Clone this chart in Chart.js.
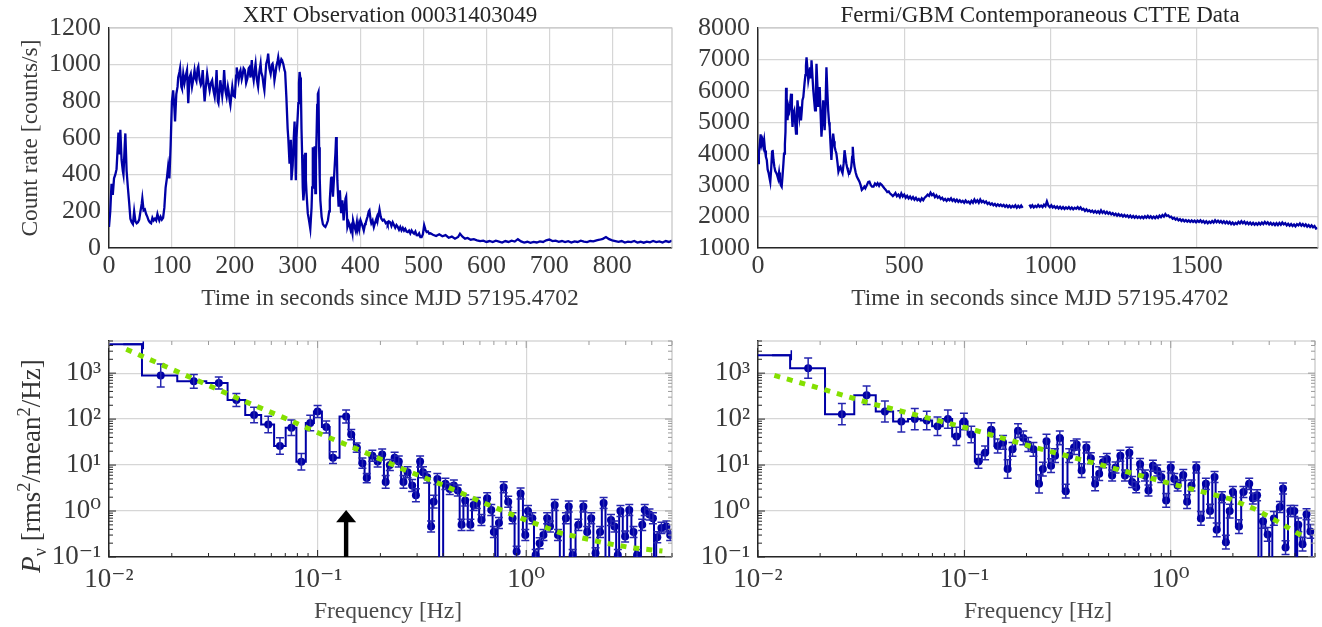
<!DOCTYPE html>
<html><head><meta charset="utf-8">
<script src="https://cdn.jsdelivr.net/npm/chart.js@4.4.1/dist/chart.umd.min.js"></script>
<style>
html,body{margin:0;padding:0;background:#fff;}
#wrap{position:relative;width:1322px;height:627px;overflow:hidden;background:#fff;}
canvas{position:absolute;}
.t{position:absolute;font-family:'Liberation Serif','DejaVu Serif',serif;white-space:nowrap;transform:translate(-50%,-50%);line-height:1;}
.r{transform:translate(-50%,-50%) rotate(-90deg);}
sup,sub{font-size:0.68em;line-height:0;}
</style></head><body>
<div id="wrap">
<canvas id="c1" width="690" height="290" style="left:0;top:0"></canvas>
<canvas id="c2" width="632" height="290" style="left:690px;top:0"></canvas>
<canvas id="c3" width="690" height="327" style="left:0;top:300px"></canvas>
<canvas id="c4" width="632" height="327" style="left:690px;top:300px"></canvas>
<div class="t" style="left:390px;top:14px;font-size:23px;color:#262626">XRT Observation 00031403049</div>
<div class="t" style="left:1040px;top:14px;font-size:23px;color:#262626">Fermi/GBM Contemporaneous CTTE Data</div>
<div class="t" style="left:390px;top:298px;font-size:23.5px;color:#3a3a3a">Time in seconds since MJD 57195.4702</div>
<div class="t" style="left:1040px;top:298px;font-size:23.5px;color:#3a3a3a">Time in seconds since MJD 57195.4702</div>
<div class="t r" style="left:30px;top:138px;font-size:23.5px;color:#3a3a3a">Count rate [counts/s]</div>
<div class="t r" style="left:31px;top:466px;font-size:27px;color:#333"><i>P</i><sub>ν</sub> [rms<sup>2</sup>/mean<sup>2</sup>/Hz]</div>
<div class="t" style="left:388px;top:611px;font-size:23.5px;color:#4a4a4a">Frequency [Hz]</div>
<div class="t" style="left:1038px;top:611px;font-size:23.5px;color:#4a4a4a">Frequency [Hz]</div>
</div>
<script>
// ---------------- DATA ----------------
// XRT light curve: [time (s), count rate (counts/s)]
const xrtLightCurve = [[0,115],[2,200],[4,350],[6,290],[8,380],[10,400],[12,430],[14,560],[15,630],[17,510],[18,645],[20,480],[22,420],[23,400],[25,560],[26,625],[28,420],[30,330],[32,250],[34,160],[36,140],[38,130],[40,200],[42,145],[44,135],[46,140],[48,155],[50,200],[52,240],[53,270],[55,205],[57,210],[59,185],[61,170],[63,150],[65,140],[67,135],[69,165],[71,150],[73,160],[75,150],[77,185],[79,160],[80,150],[82,170],[84,155],[86,165],[88,220],[90,330],[92,380],[94,445],[96,380],[98,560],[100,800],[102,860],[104,760],[105,690],[107,840],[109,880],[110,930],[112,960],[113,980],[115,880],[116,870],[118,950],[120,900],[122,940],[124,970],[126,790],[128,930],[130,950],[132,880],[134,920],[136,970],[138,920],[139,910],[141,980],[142,990],[144,920],[146,890],[147,900],[149,970],[151,850],[152,800],[154,880],[156,950],[158,900],[160,860],[162,900],[164,915],[166,860],[168,825],[170,900],[171,970],[173,800],[174,790],[176,870],[177,915],[179,860],[180,830],[182,900],[183,970],[185,860],[187,825],[189,880],[190,860],[192,800],[193,780],[195,850],[196,880],[198,830],[200,825],[202,940],[203,985],[205,940],[206,915],[208,960],[209,970],[211,920],[212,935],[214,980],[216,970],[218,900],[220,925],[222,980],[223,985],[225,930],[227,1025],[228,960],[230,915],[232,980],[233,1005],[235,920],[237,880],[239,960],[241,1005],[242,960],[244,935],[246,880],[247,860],[249,960],[250,1005],[252,1030],[253,1060],[255,980],[257,950],[259,1000],[260,1005],[262,960],[263,915],[265,960],[266,990],[268,1020],[269,1040],[271,990],[272,1005],[274,1030],[275,1025],[277,1005],[279,970],[280,960],[282,820],[284,650],[285,600],[287,460],[288,560],[289,590],[290,370],[292,450],[293,550],[295,690],[296,550],[297,370],[298,600],[300,720],[301,790],[302,900],[303,960],[304,930],[305,880],[306,650],[307,510],[308,330],[309,260],[310,300],[312,520],[313,370],[314,300],[316,190],[318,150],[320,105],[322,220],[323,330],[324,550],[325,450],[326,330],[327,555],[328,300],[329,480],[330,620],[331,780],[332,840],[333,850],[334,550],[335,380],[336,260],[338,170],[340,130],[342,120],[344,115],[346,130],[348,150],[350,200],[351,260],[353,380],[354,390],[356,280],[358,400],[360,520],[361,605],[362,560],[363,370],[365,225],[367,315],[369,190],[371,260],[373,150],[374,200],[376,270],[377,280],[379,115],[381,140],[382,130],[384,100],[385,115],[387,80],[388,150],[390,120],[392,95],[394,140],[395,100],[397,130],[398,105],[400,150],[401,140],[403,120],[405,95],[407,130],[408,135],[410,160],[411,170],[413,200],[414,205],[416,150],[417,135],[419,150],[421,115],[423,140],[424,150],[426,170],[427,150],[429,190],[430,210],[432,170],[433,160],[435,150],[437,155],[438,150],[440,135],[442,140],[443,130],[445,145],[447,140],[449,120],[451,140],[453,125],[455,110],[457,125],[459,115],[461,100],[463,115],[465,96],[467,110],[469,95],[471,105],[473,90],[475,87],[477,95],[479,80],[481,96],[483,85],[485,78],[487,90],[489,70],[491,69],[493,80],[495,60],[497,60],[499,75],[501,124],[503,100],[505,87],[507,90],[509,78],[511,80],[515,72],[520,65],[525,75],[530,64],[535,70],[540,56],[545,62],[550,51],[555,60],[558,78],[562,62],[566,51],[570,55],[575,45],[580,48],[585,42],[590,38],[595,40],[600,33],[605,38],[610,32],[615,40],[620,35],[625,30],[630,38],[635,33],[640,40],[645,35],[650,48],[655,36],[660,30],[665,34],[670,28],[675,33],[680,30],[685,36],[690,33],[695,42],[700,46],[705,38],[710,40],[715,34],[720,38],[725,32],[730,37],[735,30],[740,36],[745,33],[750,40],[755,35],[760,32],[765,38],[770,36],[775,42],[780,45],[785,50],[790,60],[795,48],[800,42],[805,38],[810,34],[815,38],[820,30],[825,35],[830,32],[835,38],[840,30],[845,34],[850,29],[855,35],[860,31],[865,38],[870,32],[875,36],[880,30],[885,38],[890,33],[895,40]];

// Fermi/GBM light curve: [time (s), count rate]; null = data gap
const gbmLightCurve = [[0,3700],[3,4000],[6,4300],[9,4620],[12,4300],[15,4420],[18,4250],[21,4430],[24,4100],[27,3900],[30,3800],[33,3500],[36,3400],[39,3250],[42,3100],[45,3500],[48,4050],[50,4120],[53,3800],[56,3580],[59,3450],[63,3380],[66,3300],[69,3200],[72,3400],[75,3150],[78,3000],[81,2950],[84,3300],[87,3700],[89,4000],[92,4300],[94,4700],[96,6100],[98,5400],[101,5070],[104,5500],[107,5380],[110,5600],[113,5910],[116,5200],[118,4850],[121,5300],[124,5380],[127,5000],[130,4640],[133,5200],[135,5700],[138,5400],[141,5170],[144,5500],[147,5060],[150,5400],[152,5700],[155,5800],[159,6230],[162,6500],[164,6800],[166,7070],[169,6700],[172,6330],[175,6500],[178,6750],[181,6400],[183,6970],[186,6500],[189,6020],[192,5700],[195,5380],[198,6000],[200,6860],[203,6200],[206,5490],[209,5800],[211,6120],[214,5300],[217,4540],[220,5000],[223,5700],[226,5200],[228,4750],[231,5500],[234,6750],[237,6000],[240,5380],[243,5000],[245,4850],[248,4300],[251,3800],[254,4300],[257,4640],[260,4400],[262,4220],[265,4100],[268,4010],[272,3700],[275,3430],[279,3550],[282,3590],[286,3450],[289,3380],[293,3700],[296,4110],[299,3900],[302,3690],[305,3550],[307,3480],[310,3400],[313,3380],[316,3450],[319,3590],[322,3900],[324,4220],[327,3800],[330,3590],[334,3400],[338,3270],[342,3200],[347,3110],[351,3000],[355,2850],[360,2900],[364,2950],[367,2900],[372,3000],[377,3100],[381,3110],[386,3000],[390,2950],[395,2950],[400,3050],[405,3000],[409,3060],[414,2980],[418,3050],[423,3010],[428,2950],[432,2900],[437,2850],[442,2780],[447,2800],[451,2740],[456,2700],[461,2650],[465,2690],[470,2750],[475,2650],[480,2700],[485,2620],[490,2740],[495,2640],[500,2700],[505,2600],[510,2660],[515,2580],[520,2640],[525,2560],[530,2620],[535,2540],[540,2600],[545,2520],[550,2560],[555,2500],[560,2580],[565,2520],[570,2600],[575,2640],[580,2700],[585,2660],[590,2760],[595,2680],[600,2720],[605,2620],[610,2680],[615,2600],[620,2640],[625,2560],[630,2600],[635,2520],[640,2560],[645,2500],[650,2560],[655,2520],[660,2580],[665,2500],[670,2550],[675,2480],[680,2540],[685,2470],[690,2520],[695,2460],[700,2500],[705,2440],[710,2510],[715,2450],[720,2480],[725,2420],[730,2500],[735,2440],[740,2540],[745,2460],[750,2520],[755,2440],[760,2540],[765,2460],[770,2500],[775,2440],[780,2480],[785,2400],[790,2440],[795,2380],[800,2420],[805,2360],[810,2400],[815,2340],[820,2390],[825,2340],[830,2380],[835,2330],[840,2370],[845,2310],[850,2360],[855,2300],[860,2350],[865,2290],[870,2340],[875,2300],[880,2360],[885,2280],[890,2340],[895,2290],[900,2350],[905,2280],[915,null],[928,2380],[933,2300],[938,2360],[943,2290],[948,2340],[953,2300],[958,2370],[963,2310],[968,2350],[973,2300],[978,2380],[983,2330],[988,2480],[993,2350],[998,2300],[1003,2360],[1008,2290],[1013,2330],[1018,2270],[1023,2320],[1028,2260],[1033,2310],[1038,2250],[1043,2300],[1048,2240],[1053,2290],[1058,2250],[1063,2300],[1068,2240],[1073,2290],[1078,2230],[1083,2280],[1088,2250],[1093,2300],[1098,2240],[1103,2290],[1108,2220],[1113,2250],[1118,2180],[1123,2230],[1128,2170],[1133,2200],[1138,2150],[1143,2190],[1148,2130],[1153,2180],[1158,2120],[1163,2170],[1168,2110],[1173,2200],[1178,2120],[1183,2170],[1188,2100],[1193,2150],[1198,2090],[1203,2130],[1208,2070],[1213,2110],[1218,2050],[1223,2090],[1228,2030],[1233,2080],[1238,2020],[1243,2060],[1248,2000],[1253,2050],[1258,2000],[1263,2040],[1268,1980],[1273,2030],[1278,1970],[1283,2020],[1288,1960],[1293,2010],[1298,1960],[1303,2000],[1308,1950],[1313,2000],[1318,1950],[1323,2010],[1328,1960],[1333,2020],[1338,1960],[1343,2010],[1348,1950],[1353,2000],[1358,1950],[1363,2010],[1368,1960],[1373,2030],[1378,1980],[1383,2050],[1388,2000],[1393,2080],[1398,2020],[1403,2040],[1408,1980],[1413,2000],[1418,1930],[1423,1960],[1428,1900],[1433,1940],[1438,1880],[1443,1920],[1448,1860],[1453,1900],[1458,1850],[1463,1890],[1468,1840],[1473,1880],[1478,1830],[1483,1880],[1488,1830],[1493,1870],[1498,1820],[1503,1870],[1508,1830],[1513,1880],[1518,1820],[1523,1860],[1528,1800],[1533,1850],[1538,1790],[1543,1840],[1548,1800],[1553,1860],[1558,1810],[1563,1880],[1568,1820],[1573,1870],[1578,1810],[1583,1860],[1588,1800],[1593,1850],[1598,1790],[1603,1840],[1608,1780],[1613,1830],[1618,1760],[1623,1810],[1628,1750],[1633,1800],[1638,1760],[1643,1830],[1648,1780],[1653,1850],[1658,1790],[1663,1840],[1668,1770],[1673,1820],[1678,1760],[1683,1810],[1688,1750],[1693,1800],[1698,1740],[1703,1790],[1708,1740],[1713,1800],[1718,1750],[1723,1810],[1728,1760],[1733,1830],[1738,1770],[1743,1820],[1748,1750],[1753,1800],[1758,1740],[1763,1790],[1768,1730],[1773,1790],[1778,1730],[1783,1800],[1788,1740],[1793,1810],[1798,1750],[1803,1790],[1808,1720],[1813,1770],[1818,1710],[1823,1760],[1828,1700],[1833,1750],[1838,1690],[1843,1760],[1848,1720],[1853,1780],[1858,1710],[1863,1760],[1868,1700],[1873,1750],[1878,1680],[1883,1730],[1888,1670],[1893,1720],[1898,1660],[1903,1700],[1908,1620],[1913,1640]];

// XRT power spectrum: frequency (Hz), power, log10 error half-width
const xrtPsdFreq  = [0.0117,0.0177,0.0255,0.0336,0.0408,0.0496,0.058,0.066,0.0749,0.0836, 0.0922,0.1,0.11,0.1185,0.137,0.145,0.154,0.164,0.172,0.183, 0.194,0.204,0.212,0.222,0.234,0.245,0.258,0.27,0.284,0.296, 0.31,0.32,0.335,0.35,0.36,0.375,0.39,0.41,0.43,0.45, 0.47,0.49,0.51,0.54,0.56,0.58,0.61,0.65,0.68,0.7, 0.72,0.74,0.78,0.82,0.86,0.9,0.94,0.99,1.02,1.07, 1.11,1.13,1.16,1.21,1.26,1.3,1.37,1.42,1.48,1.55, 1.6,1.67,1.78,1.88,1.96,2.05,2.15,2.26,2.35,2.45, 2.55,2.65,2.75,2.83,2.98,3.12,3.27,3.4,3.5,3.6, 3.7,3.9,4.05,4.15,4.25,4.45,4.7,4.9];
const xrtPsdPower = [4250,890,663,610,260,123,76,26,65,11.8, 82,146,67,14.5,114,46,24,11,5.2,16, 12,17,4.3,10,14.5,12,4.3,7,3.6,2.2, 12,7,5.4,0.46,1.6,5,0.01,3.9,3,3.6, 2.8,0.5,1.7,0.5,1.35,1.5,0.64,1.9,1.05,0.35, 0.01,0.55,3.3,1.6,0.7,0.13,2.4,0.3,1,0.7, 0.11,0.01,0.2,0.3,0.7,0.46,1.35,0.3,0.01,0.7, 1.25,0.11,0.5,1.25,0.35,0.7,0.12,0.35,1.5,0.01, 0.64,0.46,0.11,1,0.28,1.05,0.35,0.11,0.01,0.5, 1.05,0.84,0.7,0.01,0.27,0.43,0.46,0.3];
const xrtPsdErr   = [0,0.25,0.15,0.13,0.14,0.17,0.18,0.18,0.17,0.18, 0.17,0.13,0.13,0.13,0.14,0.11,0.1,0.11,0.1,0.12, 0.12,0.12,0.14,0.12,0.12,0.12,0.14,0.12,0.13,0.14, 0.12,0.12,0.12,0.12,0.14,0.12,0,0.12,0.12,0.12, 0.12,0.12,0.12,0.12,0.12,0.12,0.12,0.12,0.12,0.12, 0,0.12,0.12,0.12,0.12,0.12,0.12,0.12,0.12,0.12, 0.12,0,0.12,0.12,0.12,0.12,0.12,0.12,0,0.12, 0.12,0.12,0.12,0.12,0.12,0.12,0.12,0.12,0.12,0, 0.12,0.12,0.12,0.12,0.12,0.12,0.12,0.12,0,0.12, 0.12,0.12,0.12,0,0.12,0.12,0.12,0.12];
const xrtFirstBin = [0.01, 0.0146];
const xrtFitFreq  = [0.0121,0.0188,0.0291,0.045,0.0697,0.108,0.166,0.257,0.398,0.61,0.95,1.47,2.4,3.17,4.5];
const xrtFitPower = [3311,1380,575,240,105,43.6,19.5,8.1,3.7,1.58,0.69,0.33,0.2,0.16,0.135];
const xrtArrow = {freq:0.137, tip:1.05, headBase:0.57, base:0.1};

// GBM power spectrum
const gbmPsdFreq  = [0.0117,0.0175,0.0255,0.0336,0.0412,0.0495,0.0575,0.0657,0.0741,0.0832, 0.0915,0.0995,0.108,0.117,0.126,0.135,0.145,0.154,0.162,0.171, 0.182,0.193,0.204,0.216,0.23,0.24,0.25,0.263,0.275,0.29, 0.31,0.322,0.34,0.35,0.37,0.39,0.41,0.43,0.45,0.47, 0.49,0.52,0.54,0.57,0.6,0.63,0.65,0.68,0.71,0.75, 0.78,0.82,0.86,0.9,0.95,1.0,1.04,1.08,1.15,1.2, 1.26,1.33,1.4,1.48,1.55,1.63,1.67,1.77,1.85,1.93, 2.0,2.14,2.25,2.4,2.5,2.62,2.7,2.8,2.95,3.05, 3.16,3.38,3.5,3.6,3.8,3.97,4.05,4.15,4.35,4.55, 4.75,4.9];
const gbmPsdPower = [2450,1280,128,330,146,89,100,93,70,100, 42,89,46,12,18.5,59,26,31,8.2,22, 56,39,28,22,3.9,8.2,33,9.7,16,39, 2.7,16,24,28,7.6,24,14,3.9,6.5,11.5, 13.5,5.9,8.9,16,5.9,18.6,4.3,3.3,10.5,5.9, 2.8,9.7,7.6,5.5,1.7,8.9,5,3.6,6.1,1.6, 3.6,8.9,0.69,3.9,1.0,5.5,0.39,2.0,0.21,1.0, 2.6,0.46,2.6,3.9,1.87,2.2,0.01,0.6,0.31,0.01, 0.69,1.23,3.1,0.16,1.0,1.0,0.01,0.5,0.19,0.85, 0.36,0.01];
const gbmPsdErr   = [0,0.22,0.23,0.2,0.23,0.23,0.23,0.2,0.2,0.2, 0.2,0.18,0.18,0.15,0.15,0.15,0.15,0.15,0.2,0.15, 0.15,0.15,0.15,0.15,0.2,0.15,0.15,0.15,0.15,0.15, 0.15,0.15,0.15,0.12,0.15,0.12,0.12,0.15,0.15,0.12, 0.12,0.12,0.12,0.12,0.12,0.12,0.12,0.12,0.12,0.12, 0.12,0.12,0.12,0.12,0.15,0.12,0.12,0.12,0.12,0.15, 0.12,0.12,0.15,0.12,0.15,0.12,0.15,0.12,0.15,0.15, 0.12,0.15,0.12,0.12,0.12,0.12,0,0.15,0.15,0, 0.15,0.12,0.12,0.15,0.12,0.12,0,0.15,0.15,0.12, 0.15,0];
const gbmFirstBin = [0.01, 0.0145];
const gbmFitFreq  = [0.012,0.0194,0.0351,0.103,0.221,0.475,1.01,1.91,2.52,3.3,4.37];
const gbmFitPower = [891,485,220,64,24,9.7,3.9,1.87,1.14,0.59,0.28];

// Axis ranges and tick labels
const xrtTimeRange = [0, 895];
const xrtTimeTicks = [0,100,200,300,400,500,600,700,800];
const xrtRateRange = [0, 1200];
const xrtRateTicks = [0,200,400,600,800,1000,1200];
const gbmTimeRange = [0, 1915];
const gbmTimeTicks = [0,500,1000,1500];
const gbmRateRange = [1000, 8000];
const gbmRateTicks = [1000,2000,3000,4000,5000,6000,7000,8000];
const psdFreqRange = [0.01, 5];
const psdPowerRange = [0.1, 5000];

// ---------------- STYLE ----------------
const FONT = "'Liberation Serif','DejaVu Serif',serif";
const BLUE = '#0000a6';
const GREEN = '#84e000';
const GRID = '#d6d6d6';
const TICK = '#3a3a3a';
const AXIS = '#262626';

const pts = (arr) => arr.map(p => ({x:p[0], y:p[1]}));
const zip = (xs, ys) => xs.map((x,i) => ({x:x, y:ys[i]}));
const SUP = {'-':'\u207B','0':'\u2070','1':'\u00B9','2':'\u00B2','3':'\u00B3','4':'\u2074','5':'\u2075'};
const isPow10 = v => { const e = Math.log10(v); return Math.abs(e - Math.round(e)) < 1e-6; };
const pow10Label = v => isPow10(v) ? '10' + String(Math.round(Math.log10(v))).split('').map(c => SUP[c]).join('') : '';

function framePlugin(minor) {
  return {
    id: 'frame',
    afterDraw(chart) {
      const ctx = chart.ctx, a = chart.chartArea;
      ctx.save();
      ctx.strokeStyle = '#c4c4c4'; ctx.lineWidth = 1.2;
      ctx.beginPath();
      ctx.moveTo(a.left, a.top); ctx.lineTo(a.right, a.top); ctx.lineTo(a.right, a.bottom);
      ctx.stroke();
      if (minor) {
        const xs = chart.scales.x, ys = chart.scales.y;
        const drawSet = (scale, horiz) => {
          const lo = Math.floor(Math.log10(scale.min)), hi = Math.ceil(Math.log10(scale.max));
          for (let e = lo; e <= hi; e++) {
            for (let m = 1; m <= 9; m++) {
              const v = m * Math.pow(10, e);
              if (v < scale.min * 0.999 || v > scale.max * 1.001) continue;
              const p = scale.getPixelForValue(v);
              const len = m === 1 ? 7 : 4;
              ctx.lineWidth = 1;
              if (horiz) {
                ctx.strokeStyle = AXIS; ctx.beginPath(); ctx.moveTo(p, a.bottom); ctx.lineTo(p, a.bottom - len); ctx.stroke();
                ctx.strokeStyle = '#9a9a9a'; ctx.beginPath(); ctx.moveTo(p, a.top); ctx.lineTo(p, a.top + len); ctx.stroke();
              } else {
                ctx.strokeStyle = AXIS; ctx.beginPath(); ctx.moveTo(a.left, p); ctx.lineTo(a.left + len, p); ctx.stroke();
                ctx.strokeStyle = '#9a9a9a'; ctx.beginPath(); ctx.moveTo(a.right, p); ctx.lineTo(a.right - len, p); ctx.stroke();
              }
            }
          }
        };
        drawSet(xs, true); drawSet(ys, false);
      }
      ctx.restore();
    }
  };
}

function errPlugin(index, err, firstBin) {
  return {
    id: 'errbars',
    afterDatasetDraw(chart, args) {
      if (args.index !== index) return;
      const ds = chart.data.datasets[index];
      const xs = chart.scales.x, ys = chart.scales.y, a = chart.chartArea, ctx = chart.ctx;
      ctx.save();
      ctx.beginPath(); ctx.rect(a.left, a.top, a.right - a.left, a.bottom - a.top); ctx.clip();
      ctx.strokeStyle = '#2626b0'; ctx.lineWidth = 1.5;
      ds.data.forEach((p, i) => {
        const e = err[i]; if (!e) return;
        const x = xs.getPixelForValue(p.x);
        const y1 = ys.getPixelForValue(p.y * Math.pow(10, -e));
        const y2 = ys.getPixelForValue(p.y * Math.pow(10, e));
        ctx.beginPath();
        ctx.moveTo(x, y1); ctx.lineTo(x, y2);
        ctx.moveTo(x - 4, y1); ctx.lineTo(x + 4, y1);
        ctx.moveTo(x - 4, y2); ctx.lineTo(x + 4, y2);
        ctx.stroke();
      });
      const p0 = ds.data[0];
      const y0 = ys.getPixelForValue(p0.y);
      const xl = xs.getPixelForValue(firstBin[0]), xr = xs.getPixelForValue(firstBin[1]);
      ctx.strokeStyle = BLUE; ctx.lineWidth = 2;
      ctx.beginPath(); ctx.moveTo(xl, y0); ctx.lineTo(xr, y0); ctx.stroke();
      ctx.lineWidth = 1.5;
      ctx.beginPath(); ctx.moveTo(xr, y0 - 5); ctx.lineTo(xr, y0 + 5); ctx.stroke();
      ctx.restore();
    }
  };
}

const arrowPlugin = {
  id: 'arrow',
  afterDatasetsDraw(chart) {
    const xs = chart.scales.x, ys = chart.scales.y, ctx = chart.ctx;
    const x = xs.getPixelForValue(xrtArrow.freq);
    const yb = ys.getPixelForValue(xrtArrow.base);
    const yh = ys.getPixelForValue(xrtArrow.headBase);
    const yt = ys.getPixelForValue(xrtArrow.tip);
    ctx.save();
    ctx.fillStyle = '#000';
    ctx.fillRect(x - 2.2, yh - 1, 4.4, yb - yh + 1);
    ctx.beginPath(); ctx.moveTo(x - 10, yh); ctx.lineTo(x + 10, yh); ctx.lineTo(x, yt); ctx.closePath(); ctx.fill();
    ctx.restore();
  }
};

function linAxis(range, tickVals, fitFn, fontSize, pad) {
  return {
    type: 'linear', min: range[0], max: range[1], afterFit: fitFn,
    afterBuildTicks: s => { s.ticks = tickVals.map(v => ({value: v})); },
    ticks: {callback: v => String(v), padding: pad, color: TICK, font: {family: FONT, size: fontSize}, maxRotation: 0, autoSkip: false},
    grid: {color: GRID, lineWidth: 1.2, drawTicks: false},
    border: {color: AXIS, width: 1.5}
  };
}
function logAxis(range, fitFn, fontSize, pad) {
  return {
    type: 'logarithmic', min: range[0], max: range[1], afterFit: fitFn,
    ticks: {callback: v => pow10Label(v), padding: pad, color: TICK, font: {family: FONT, size: fontSize}, maxRotation: 0, autoSkip: false},
    grid: {color: c => (c.tick && isPow10(c.tick.value)) ? GRID : 'rgba(0,0,0,0)', lineWidth: 1.2, drawTicks: false},
    border: {color: AXIS, width: 1.5}
  };
}
const baseOpts = (pad) => ({
  responsive: false, animation: false, devicePixelRatio: 1,
  layout: {padding: pad},
  plugins: {legend: {display: false}, tooltip: {enabled: false}}
});

// ---------------- CHARTS ----------------
new Chart(document.getElementById('c1'), {
  type: 'line',
  data: {datasets: [{data: pts(xrtLightCurve), borderColor: BLUE, borderWidth: 2.3, pointRadius: 0, tension: 0}]},
  options: Object.assign(baseOpts({left: 0, top: 28, right: 18, bottom: 0}), {
    scales: {
      x: linAxis(xrtTimeRange, xrtTimeTicks, s => { s.height = 42; }, 26, 3),
      y: linAxis(xrtRateRange, xrtRateTicks, s => { s.width = 109; }, 26, 8)
    }
  }),
  plugins: [framePlugin(false)]
});

new Chart(document.getElementById('c2'), {
  type: 'line',
  data: {datasets: [{data: pts(gbmLightCurve), borderColor: BLUE, borderWidth: 2.3, pointRadius: 0, tension: 0, spanGaps: false}]},
  options: Object.assign(baseOpts({left: 0, top: 28, right: 4, bottom: 0}), {
    scales: {
      x: linAxis(gbmTimeRange, gbmTimeTicks, s => { s.height = 42; }, 26, 3),
      y: linAxis(gbmRateRange, gbmRateTicks, s => { s.width = 68; }, 26, 8)
    }
  }),
  plugins: [framePlugin(false)]
});

function psdChart(id, freq, power, err, firstBin, fitF, fitP, yW, padR, extra) {
  const plugins = [framePlugin(true), errPlugin(1, err, firstBin)];
  if (extra) plugins.push(extra);
  return new Chart(document.getElementById(id), {
    type: 'line',
    data: {datasets: [
      {data: zip(fitF, fitP), borderColor: GREEN, borderWidth: 5, borderDash: [6, 7], pointRadius: 0, tension: 0, order: 0},
      {data: zip(freq, power), borderColor: BLUE, borderWidth: 2, stepped: 'middle',
       pointRadius: c => c.dataIndex === 0 ? 0 : 4, pointBackgroundColor: BLUE, pointBorderColor: BLUE, pointBorderWidth: 0, order: 1}
    ]},
    options: Object.assign(baseOpts({left: 0, top: 41, right: padR, bottom: 0}), {
      scales: {
        x: logAxis(psdFreqRange, s => { s.height = 70; }, 27, 7),
        y: logAxis(psdPowerRange, s => { s.width = yW; }, 27, 8)
      }
    }),
    plugins: plugins
  });
}
psdChart('c3', xrtPsdFreq, xrtPsdPower, xrtPsdErr, xrtFirstBin, xrtFitFreq, xrtFitPower, 109, 18, arrowPlugin);
psdChart('c4', gbmPsdFreq, gbmPsdPower, gbmPsdErr, gbmFirstBin, gbmFitFreq, gbmFitPower, 68, 4, null);
</script>
</body></html>
